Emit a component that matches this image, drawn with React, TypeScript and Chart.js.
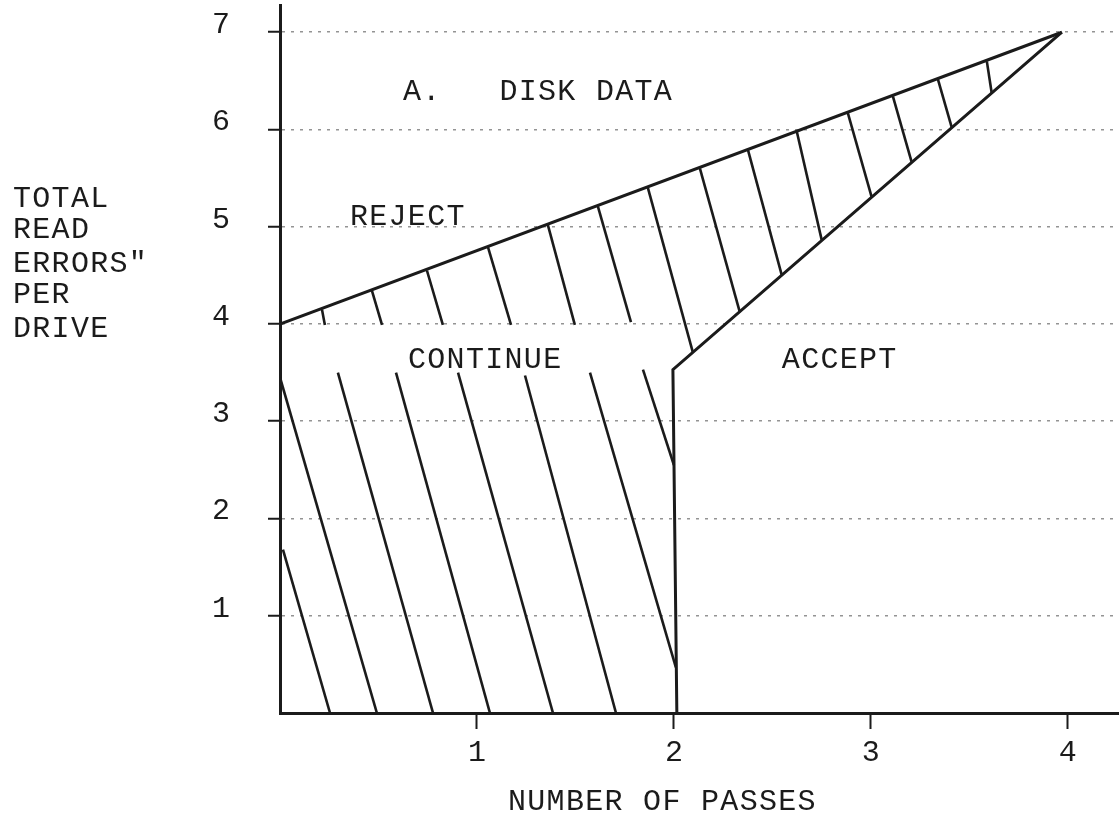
import React, { useEffect, useRef } from 'react';
import { Chart, registerables } from 'chart.js';

Chart.register(...registerables);

// ---- data ----
const xTickValues = [1, 2, 3, 4];
const yTickValues = [1, 2, 3, 4, 5, 6, 7];
const xMin = 0;
const xMax = 4.26;
const yMin = 0;
const yMax = 7.28;

// upper (reject) boundary
const rejectBoundary = [
  { x: 0, y: 4.0 },
  { x: 3.97, y: 7.0 },
];
// lower (accept) boundary: vertical drop at 2 passes, then rising to the apex
const acceptBoundary = [
  { x: 2.015, y: 0 },
  { x: 1.995, y: 3.53 },
  { x: 3.97, y: 7.0 },
];
// short hatch strokes in the upper wedge: [xTop, yTop, xBottom, yBottom]
const rejectHatch = [
  [0.213, 4.15, 0.228, 3.99],
  [0.467, 4.34, 0.518, 3.99],
  [0.746, 4.55, 0.827, 3.99],
  [1.056, 4.79, 1.173, 3.99],
  [1.36, 5.02, 1.497, 3.99],
  [1.614, 5.21, 1.782, 4.02],
  [1.868, 5.4, 2.096, 3.71],
  [2.132, 5.6, 2.335, 4.12],
  [2.376, 5.79, 2.548, 4.5],
  [2.624, 5.98, 2.751, 4.86],
  [2.883, 6.17, 3.005, 5.3],
  [3.112, 6.34, 3.208, 5.66],
  [3.34, 6.52, 3.411, 6.02],
  [3.589, 6.7, 3.614, 6.37],
];
// long hatch strokes in the lower (continue) region
const continueHatch = [
  [0.015, 1.68, 0.254, 0],
  [0.0, 3.45, 0.492, 0],
  [0.294, 3.5, 0.777, 0],
  [0.589, 3.5, 1.066, 0],
  [0.904, 3.5, 1.386, 0],
  [1.244, 3.47, 1.706, 0],
  [1.574, 3.5, 2.01, 0.47],
  [1.843, 3.53, 2.0, 2.55],
];

const regionLabels = ['A.   DISK DATA', 'REJECT', 'CONTINUE', 'ACCEPT'];
const yTitleLines = ['TOTAL', 'READ', 'ERRORS"', 'PER', 'DRIVE'];
const xTitle = 'NUMBER OF PASSES';

export default function App() {
  const ref = useRef<HTMLCanvasElement>(null);

  useEffect(() => {
    document.body.style.margin = '0';
    const canvas = ref.current;
    if (!canvas) return;
    const ink = '#1b1b1b';
    const family = '"Liberation Mono", "DejaVu Sans Mono", monospace';

    const lineDs = (pts: { x: number; y: number }[], w: number) => ({
      data: pts,
      showLine: true,
      borderColor: ink,
      backgroundColor: ink,
      borderWidth: w,
      pointRadius: 0,
      pointHoverRadius: 0,
      fill: false,
      tension: 0,
    });

    const datasets = [
      lineDs(rejectBoundary, 3),
      lineDs(acceptBoundary, 3),
      ...rejectHatch.map(([x0, y0, x1, y1]) =>
        lineDs([{ x: x0, y: y0 }, { x: x1, y: y1 }], 2.6)
      ),
      ...continueHatch.map(([x0, y0, x1, y1]) =>
        lineDs([{ x: x0, y: y0 }, { x: x1, y: y1 }], 2.6)
      ),
    ];

    const regionPos = [
      [0.624, 6.3],
      [0.355, 5.02],
      [0.65, 3.55],
      [2.548, 3.55],
    ];
    const yTitleBaselines = [207, 238, 272, 303, 337];

    const textPlugin = {
      id: 'paperText',
      afterDraw(chart: any) {
        const { ctx } = chart;
        const xs = chart.scales.x;
        const ys = chart.scales.y;
        ctx.save();
        ctx.fillStyle = ink;
        ctx.font = `30px ${family}`;
        try {
          (ctx as any).letterSpacing = '1.3px';
        } catch (e) {}
        ctx.textAlign = 'left';
        ctx.textBaseline = 'alphabetic';
        regionLabels.forEach((t, i) => {
          ctx.fillText(
            t,
            xs.getPixelForValue(regionPos[i][0]),
            ys.getPixelForValue(regionPos[i][1])
          );
        });
        yTitleLines.forEach((t, i) => ctx.fillText(t, 13, yTitleBaselines[i]));
        ctx.fillText(xTitle, 508, 810);
        ctx.restore();
      },
    };

    const zeroPad = (s: any) => {
      s.paddingLeft = 0;
      s.paddingRight = 0;
      s.paddingTop = 0;
      s.paddingBottom = 0;
    };

    const chart = new Chart(canvas, {
      type: 'scatter',
      data: { datasets: datasets as any },
      options: {
        responsive: false,
        animation: false,
        layout: { padding: { top: 5, left: 0, right: 0, bottom: 0 } },
        plugins: {
          legend: { display: false },
          tooltip: { enabled: false },
        },
        scales: {
          x: {
            type: 'linear',
            min: xMin,
            max: xMax,
            afterBuildTicks: (s: any) => {
              s.ticks = xTickValues.map((v) => ({ value: v }));
            },
            afterFit: (s: any) => {
              s.height = 106;
              zeroPad(s);
            },
            grid: {
              drawOnChartArea: false,
              tickLength: 16,
              tickColor: ink,
              tickWidth: 2,
            },
            border: { color: ink, width: 3 },
            ticks: {
              font: { family, size: 30 },
              color: ink,
              padding: 6,
              maxRotation: 0,
              autoSkip: false,
              includeBounds: false,
            },
          },
          y: {
            type: 'linear',
            min: yMin,
            max: yMax,
            afterBuildTicks: (s: any) => {
              s.ticks = yTickValues.map((v) => ({ value: v }));
            },
            afterFit: (s: any) => {
              s.width = 280;
              zeroPad(s);
            },
            grid: {
              color: 'rgba(60,60,60,0.55)',
              lineWidth: 1.5,
              tickLength: 12,
              tickColor: ink,
              tickWidth: 2,
              tickBorderDash: [],
            },
            border: { color: ink, width: 3, dash: [3, 6] },
            ticks: {
              font: { family, size: 30 },
              color: ink,
              padding: 38,
              labelOffset: -7,
              autoSkip: false,
              includeBounds: false,
            },
          },
        },
      },
      plugins: [textPlugin],
    } as any);

    return () => chart.destroy();
  }, []);

  return (
    <div style={{ position: 'absolute', left: 0, top: 0, width: 1119, height: 819, background: '#fff' }}>
      <canvas ref={ref} width={1119} height={819} style={{ display: 'block' }} />
    </div>
  );
}
